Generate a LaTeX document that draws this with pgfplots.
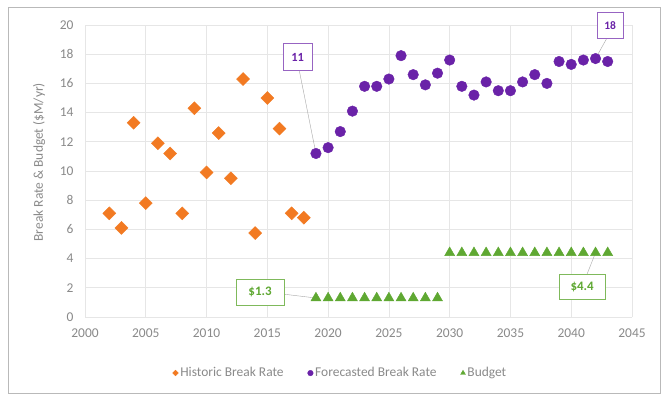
\documentclass[border=0pt]{standalone}
\usepackage{pgfplots}
\pgfplotsset{compat=1.18}
\usepackage{fontspec}
\setmainfont{Carlito}
\definecolor{horange}{HTML}{F27A22}
\definecolor{fpurple}{HTML}{6A22A8}
\definecolor{bgreen}{HTML}{5FA832}
\definecolor{txtgray}{HTML}{8A8A8A}
\definecolor{gridgray}{HTML}{E6E6E6}
\begin{document}
\begin{tikzpicture}
\fill[white] (0,0) rectangle (662bp,396bp);
\draw[gray!55, line width=0.8pt] (8bp,3bp) rectangle (660bp,389bp);
\begin{axis}[
  at={(85bp,79bp)}, anchor=south west,
  scale only axis, width=547bp, height=292bp,
  xmin=2000, xmax=2045, ymin=0, ymax=20,
  xtick={2000,2005,...,2045}, ytick={0,2,...,20},
  xticklabel style={/pgf/number format/1000 sep={}, yshift=-8bp},
  yticklabel style={xshift=-8bp},
  /pgf/number format/assume math mode=true,
  tick label style={font=\fontsize{13.5}{15}\selectfont, text=txtgray},
  major tick length=0pt,
  axis line style={draw=none},
  grid=major, major grid style={gridgray, line width=0.7pt},
  ylabel={Break Rate \& Budget (\$M/yr)},
  every axis y label/.style={at={(axis description cs:-0.084,0.53)}, rotate=90, anchor=center,
     font=\fontsize{13.5}{15}\selectfont, text=txtgray},
  clip=false,
  legend style={at={(0.467,-0.192)}, anchor=center, draw=none, fill=none,
     font=\fontsize{13.5}{15}\selectfont, text=txtgray, legend columns=3,
     /tikz/every even column/.append style={column sep=22bp},
     /tikz/every odd column/.append style={column sep=0bp},
     inner sep=0pt},
  legend image code/.code={\draw[mark repeat=2,mark phase=2,#1] plot coordinates {(0bp,0bp)(3bp,0bp)(6bp,0bp)};},
  legend cell align=left,
]
\addplot[only marks, mark=square*, mark size=4.6bp, color=horange, mark options={fill=horange, draw=horange, rotate=45},
  legend image post style={mark size=2bp}]
 coordinates {(2002,7.1)(2003,6.1)(2004,13.3)(2005,7.8)(2006,11.9)(2007,11.2)(2008,7.1)(2009,14.3)(2010,9.9)(2011,12.6)(2012,9.5)(2013,16.3)(2014,5.75)(2015,15.0)(2016,12.9)(2017,7.1)(2018,6.8)};
\addlegendentry{Historic Break Rate}
\addplot[only marks, mark=*, mark size=5.3bp, color=fpurple, mark options={fill=fpurple, draw=fpurple},
  legend image post style={mark size=2.8bp}]
 coordinates {(2019,11.2)(2020,11.6)(2021,12.7)(2022,14.1)(2023,15.8)(2024,15.8)(2025,16.3)(2026,17.9)(2027,16.6)(2028,15.9)(2029,16.7)(2030,17.6)(2031,15.8)(2032,15.2)(2033,16.1)(2034,15.5)(2035,15.5)(2036,16.1)(2037,16.6)(2038,16.0)(2039,17.5)(2040,17.3)(2041,17.6)(2042,17.7)(2043,17.5)};
\addlegendentry{Forecasted Break Rate}
\addplot[only marks, mark=triangle*, mark size=5.8bp, color=bgreen, mark options={fill=bgreen, draw=bgreen},
  legend image post style={mark size=2.8bp}]
 coordinates {(2019,1.3)(2020,1.3)(2021,1.3)(2022,1.3)(2023,1.3)(2024,1.3)(2025,1.3)(2026,1.3)(2027,1.3)(2028,1.3)(2029,1.3)(2030,4.4)(2031,4.4)(2032,4.4)(2033,4.4)(2034,4.4)(2035,4.4)(2036,4.4)(2037,4.4)(2038,4.4)(2039,4.4)(2040,4.4)(2041,4.4)(2042,4.4)(2043,4.4)};
\addlegendentry{Budget}
% annotations
\draw[gray!70] (axis cs:2017.6,17.0) -- (axis cs:2019,11.2);
\node[draw=fpurple!70, line width=0.8pt, fill=white, text=fpurple, font=\bfseries\fontsize{12.5}{14}\selectfont, minimum width=29bp, minimum height=27bp, inner sep=1bp] (a11) at (axis cs:2017.5,17.8) {11};
\draw[gray!70] (axis cs:2043.2,19.5) -- (axis cs:2042,17.7);
\node[draw=fpurple!70, line width=0.8pt, fill=white, text=fpurple, font=\bfseries\fontsize{11.5}{13}\selectfont, minimum width=26bp, minimum height=26bp, inner sep=1bp] (a18) at (axis cs:2043.2,19.95) {18};
\draw[gray!70] (axis cs:2015,1.7) -- (axis cs:2019,1.3);
\node[draw=bgreen!80, line width=0.8pt, fill=white, text=bgreen, font=\bfseries\fontsize{13}{15}\selectfont, minimum width=48bp, minimum height=26bp, inner sep=1bp] (a13) at (axis cs:2014.4,1.7) {\$1.3};
\draw[gray!70] (axis cs:2041,2.3) -- (axis cs:2042,4.4);
\node[draw=bgreen!80, line width=0.8pt, fill=white, text=bgreen, font=\bfseries\fontsize{13}{15}\selectfont, minimum width=46bp, minimum height=25bp, inner sep=1bp] (a44) at (axis cs:2040.9,2.05) {\$4.4};
\end{axis}
\path[use as bounding box] (0,0) rectangle (662bp,396bp);
\end{tikzpicture}
\end{document}
